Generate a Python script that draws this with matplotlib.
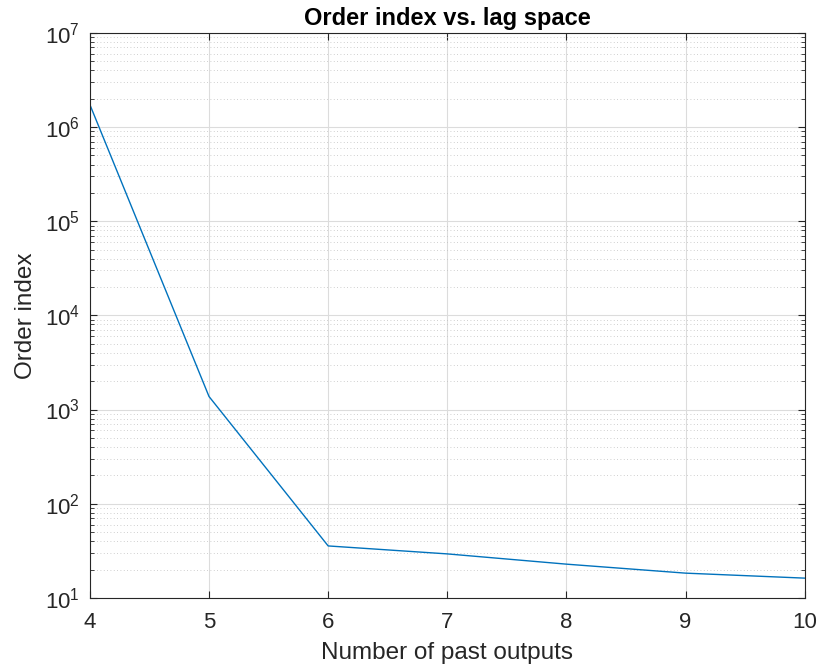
import matplotlib
matplotlib.use('Agg')
import matplotlib.pyplot as plt
from matplotlib.ticker import LogLocator, FixedLocator

plt.rcParams['font.family'] = ['Liberation Sans', 'DejaVu Sans']

# data
lags = [4, 5, 6, 7, 8, 9, 10]
order_index = [1.73e6, 1375, 35.6, 29.3, 22.8, 18.3, 16.2]

fig = plt.figure(figsize=(8.17, 6.71), dpi=100)
ax = fig.add_axes([0.110, 0.109, 0.875, 0.842])

ax.plot(lags, order_index, color='#0072BD', lw=1.0)
ax.set_yscale('log')
ax.set_xlim(4, 10)
ax.set_ylim(10, 1e7)

ax.xaxis.set_major_locator(FixedLocator(range(4, 11)))
ax.yaxis.set_major_locator(LogLocator(base=10, numticks=10))
ax.yaxis.set_minor_locator(LogLocator(base=10, subs=range(2, 10), numticks=100))
ax.xaxis.get_offset_text().set_visible(False)
ax.yaxis.get_offset_text().set_visible(False)

ax.grid(True, which='major', color='#dcdcdc', lw=0.8)
ax.grid(True, which='minor', axis='y', color='#c0c0c0', lw=0.6, ls=(0, (1, 3)))
ax.set_axisbelow(True)

ax.tick_params(which='both', direction='in', top=True, right=True, colors='#262626',
               labelsize=16, length=5)
ax.tick_params(which='minor', length=3)
ax.tick_params(axis='x', which='major', pad=10)
ax.tick_params(axis='y', which='major', pad=7)
for s in ax.spines.values():
    s.set_color('#262626')
    s.set_linewidth(0.8)

ax.set_xlabel('Number of past outputs', fontsize=17.5, color='#262626', labelpad=7)
ax.set_ylabel('Order index', fontsize=17.5, color='#262626', labelpad=6)
ax.set_title('Order index vs. lag space', fontsize=17, fontweight='bold', pad=6)

fig.savefig('out.png', dpi=100)
